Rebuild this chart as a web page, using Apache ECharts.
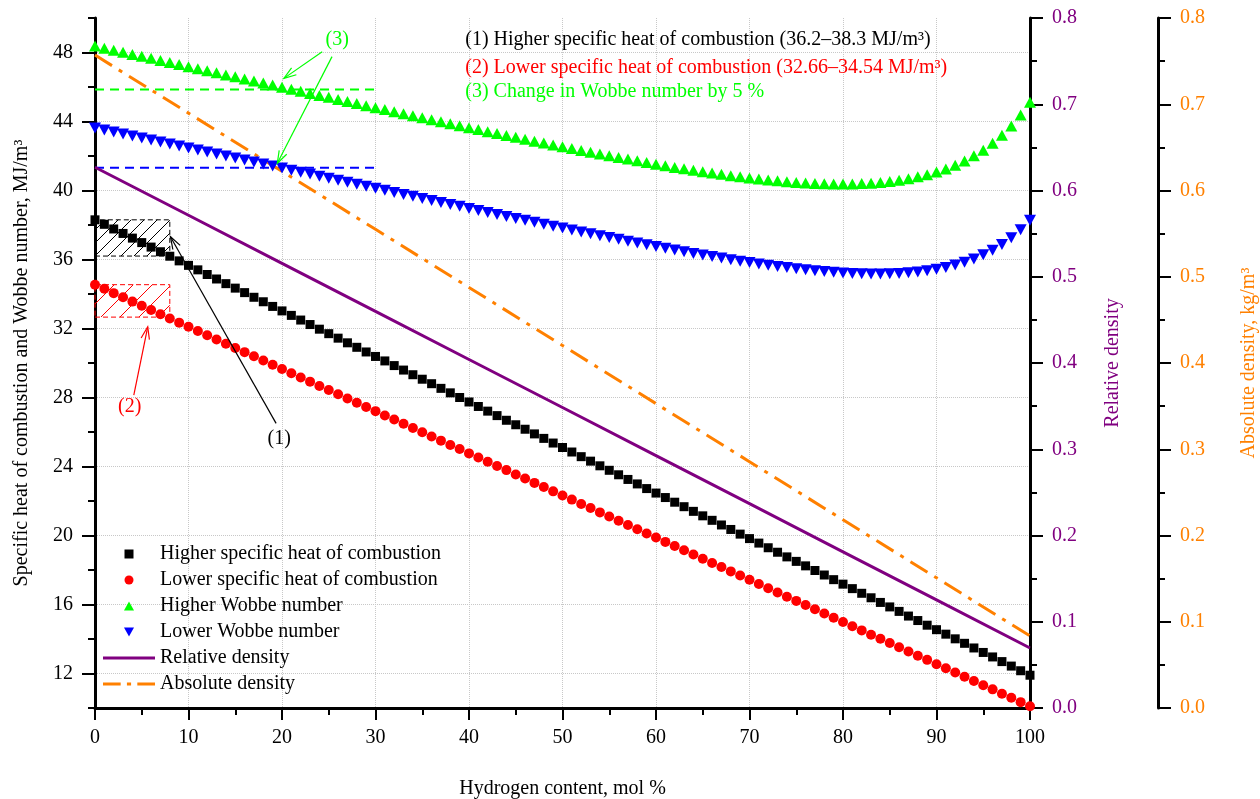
<!DOCTYPE html>
<html><head><meta charset="utf-8">
<script src="https://cdn.jsdelivr.net/npm/echarts@6/dist/echarts.min.js"></script>
<style>html,body{margin:0;padding:0;background:#fff}#c{width:1260px;height:799px}</style>
</head><body><div id="c"></div>
<script>
// ---------------- data ----------------
const hydrogen = [0,1,2,3,4,5,6,7,8,9,10,11,12,13,14,15,16,17,18,19,20,21,22,23,24,25,26,27,28,29,30,31,32,33,34,35,36,37,38,39,40,41,42,43,44,45,46,47,48,49,50,51,52,53,54,55,56,57,58,59,60,61,62,63,64,65,66,67,68,69,70,71,72,73,74,75,76,77,78,79,80,81,82,83,84,85,86,87,88,89,90,91,92,93,94,95,96,97,98,99,100];
const higherHeat = [38.30,38.04,37.77,37.51,37.24,36.98,36.72,36.45,36.19,35.92,35.66,35.40,35.13,34.87,34.60,34.34,34.08,33.81,33.55,33.28,33.02,32.76,32.49,32.23,31.96,31.70,31.44,31.17,30.91,30.64,30.38,30.12,29.85,29.59,29.32,29.06,28.80,28.53,28.27,28.00,27.74,27.48,27.21,26.95,26.68,26.42,26.16,25.89,25.63,25.36,25.10,24.84,24.57,24.31,24.04,23.78,23.52,23.25,22.99,22.72,22.46,22.20,21.93,21.67,21.40,21.14,20.88,20.61,20.35,20.08,19.82,19.56,19.29,19.03,18.76,18.50,18.24,17.97,17.71,17.44,17.18,16.92,16.65,16.39,16.12,15.86,15.60,15.33,15.07,14.80,14.54,14.28,14.01,13.75,13.48,13.22,12.96,12.69,12.43,12.16,11.90];
const lowerHeat = [34.54,34.30,34.05,33.81,33.56,33.32,33.07,32.83,32.58,32.34,32.10,31.85,31.61,31.36,31.12,30.87,30.63,30.39,30.14,29.90,29.65,29.41,29.16,28.92,28.67,28.43,28.19,27.94,27.70,27.45,27.21,26.96,26.72,26.48,26.23,25.99,25.74,25.50,25.25,25.01,24.76,24.52,24.28,24.03,23.79,23.54,23.30,23.05,22.81,22.56,22.32,22.08,21.83,21.59,21.34,21.10,20.85,20.61,20.36,20.12,19.88,19.63,19.39,19.14,18.90,18.65,18.41,18.17,17.92,17.68,17.43,17.19,16.94,16.70,16.45,16.21,15.97,15.72,15.48,15.23,14.99,14.74,14.50,14.25,14.01,13.77,13.52,13.28,13.03,12.79,12.54,12.30,12.06,11.81,11.57,11.32,11.08,10.83,10.59,10.34,10.10];
const higherWobbe = [48.37,48.25,48.13,48.01,47.89,47.78,47.66,47.54,47.42,47.30,47.18,47.06,46.94,46.82,46.70,46.59,46.47,46.35,46.23,46.11,45.99,45.87,45.75,45.63,45.51,45.40,45.28,45.16,45.04,44.92,44.80,44.69,44.57,44.45,44.33,44.22,44.10,43.99,43.87,43.76,43.64,43.53,43.41,43.30,43.19,43.08,42.97,42.86,42.75,42.64,42.53,42.43,42.32,42.22,42.11,42.01,41.91,41.82,41.72,41.62,41.52,41.43,41.34,41.26,41.17,41.09,41.01,40.94,40.86,40.79,40.73,40.67,40.61,40.56,40.51,40.47,40.44,40.41,40.39,40.38,40.37,40.38,40.40,40.42,40.47,40.52,40.59,40.68,40.79,40.92,41.07,41.25,41.47,41.71,42.01,42.34,42.74,43.20,43.74,44.37,45.11];
const lowerWobbe = [43.62,43.51,43.39,43.28,43.16,43.05,42.93,42.81,42.70,42.58,42.47,42.35,42.23,42.12,42.00,41.88,41.77,41.65,41.53,41.42,41.30,41.18,41.06,40.95,40.83,40.71,40.59,40.48,40.36,40.24,40.13,40.01,39.89,39.77,39.66,39.54,39.42,39.31,39.19,39.08,38.96,38.84,38.73,38.61,38.50,38.38,38.27,38.16,38.05,37.93,37.82,37.71,37.60,37.49,37.38,37.27,37.17,37.06,36.96,36.85,36.75,36.65,36.55,36.45,36.35,36.26,36.17,36.08,35.99,35.90,35.82,35.74,35.67,35.59,35.53,35.46,35.40,35.35,35.30,35.26,35.22,35.19,35.17,35.16,35.16,35.17,35.19,35.23,35.28,35.35,35.43,35.54,35.68,35.84,36.03,36.27,36.54,36.87,37.26,37.73,38.28];
const densityX = [0,10,20,30,40,50,60,70,80,90,100];
const relativeDensity = [0.627,0.5713,0.5156,0.4599,0.4041,0.3484,0.2926,0.2369,0.1811,0.1254,0.0696];
const absoluteDensity = [0.757,0.6897,0.6223,0.5550,0.4876,0.4203,0.3529,0.2856,0.2182,0.1509,0.0835];
const wobbeLimitX = [0,30];
const higherWobbeLimit = [45.85,45.85];
const lowerWobbeLimit = [41.32,41.32];
const higherHeatRange = [36.2,38.3];
const lowerHeatRange = [32.66,34.54];
const rangeX = [0,8];
const leftTickLabels = [12,16,20,24,28,32,36,40,44,48];

const seriesNames = ['Higher specific heat of combustion','Lower specific heat of combustion','Higher Wobbe number','Lower Wobbe number','Relative density','Absolute density'];
const noteLines = ['(1) Higher specific heat of combustion (36.2–38.3 MJ/m³)','(2) Lower specific heat of combustion (32.66–34.54 MJ/m³)','(3) Change in Wobbe number by 5 %'];

// ---------------- helpers ----------------
const FONT = '"Liberation Serif", "Times New Roman", serif';
const DOWN_TRI = 'path://M0,0L10,0L5,9Z';
function pair(xs, ys){ return xs.map((x,i)=>[x, ys[i]]); }
function hatch(color, step){
  const c = document.createElement('canvas'); c.width = step; c.height = step;
  const g = c.getContext('2d'); g.strokeStyle = color; g.lineWidth = 1;
  g.beginPath();
  g.moveTo(0, step); g.lineTo(step, 0);
  g.moveTo(-2, 2); g.lineTo(2, -2);
  g.moveTo(step-2, step+2); g.lineTo(step+2, step-2);
  g.stroke();
  return {image: c, repeat: 'repeat'};
}
const axisLineStyle = {color:'#000', width:3};
const tickLine = {color:'#000', width:2};

const chart = echarts.init(document.getElementById('c'), null, {renderer:'canvas'});
const option = {
  animation:false,
  backgroundColor:'#fff',
  grid:{left:95, right:230, top:18, bottom:91, containLabel:false, outerBoundsMode:'none'},
  legend:{
    orient:'vertical', left:98, top:539, itemWidth:52, itemHeight:9, itemGap:6,
    symbolRotate:0,
    textStyle:{fontFamily:FONT, fontSize:20, color:'#000', lineHeight:20},
    data:[
      {name:seriesNames[0], icon:'path://M0,0h10v10h-10Z'},
      {name:seriesNames[1], icon:'path://M5,0A5,5,0,1,1,5,10A5,5,0,1,1,5,0Z'},
      {name:seriesNames[2], icon:'path://M5,0L10,9L0,9Z'},
      {name:seriesNames[3], icon:DOWN_TRI},
      {name:seriesNames[4], icon:'path://M0,0h50v3h-50Z'},
      {name:seriesNames[5], icon:'path://M0,0h17v3h-17Z M23,0h4v3h-4Z M33,0h17v3h-17Z'}
    ]
  },
  xAxis:{
    type:'value', min:0, max:100, interval:10,
    name:'Hydrogen content, mol %', nameLocation:'middle', nameGap:71,
    nameTextStyle:{fontFamily:FONT, fontSize:20, color:'#000'},
    axisLine:{show:true, onZero:false, lineStyle:axisLineStyle},
    axisTick:{show:true, length:12, lineStyle:tickLine},
    minorTick:{show:true, splitNumber:2, length:7, lineStyle:tickLine},
    axisLabel:{fontFamily:FONT, fontSize:20, color:'#000', margin:20},
    splitLine:{show:true, lineStyle:{color:'#c8c8c8', type:'dotted', width:1}}
  },
  yAxis:[
    { type:'value', min:10, max:50, interval:2, position:'left',
      name:'Specific heat of combustion and Wobbe number, MJ/m³', nameLocation:'middle', nameGap:63, nameRotate:90,
      nameTextStyle:{fontFamily:FONT, fontSize:20, color:'#000'},
      axisLine:{show:true, onZero:false, lineStyle:axisLineStyle},
      axisTick:{show:true, length:7, lineStyle:tickLine},
      axisLabel:{show:false}, splitLine:{show:false}
    },
    { type:'value', min:10, max:50, interval:2, position:'left',
      axisLine:{show:false, onZero:false},
      axisTick:{show:true, length:13, lineStyle:tickLine, customValues:leftTickLabels},
      axisLabel:{show:true, fontFamily:FONT, fontSize:20, color:'#000', margin:22, customValues:leftTickLabels},
      splitLine:{show:true, lineStyle:{color:'#c8c8c8', type:'dotted', width:1}}
    },
    { type:'value', min:0, max:0.8, interval:0.1, position:'right',
      name:'Relative density', nameLocation:'middle', nameGap:73, nameRotate:90,
      nameTextStyle:{fontFamily:FONT, fontSize:20, color:'#800080'},
      axisLine:{show:true, onZero:false, lineStyle:axisLineStyle},
      axisTick:{show:true, length:13, lineStyle:tickLine},
      minorTick:{show:true, splitNumber:2, length:7, lineStyle:tickLine},
      axisLabel:{fontFamily:FONT, fontSize:20, color:'#800080', margin:22, formatter:v=>v.toFixed(1)},
      splitLine:{show:false}
    },
    { type:'value', min:0, max:0.8, interval:0.1, position:'right', offset:128,
      name:'Absolute density, kg/m³', nameLocation:'middle', nameGap:81, nameRotate:90,
      nameTextStyle:{fontFamily:FONT, fontSize:20, color:'#ff8000'},
      axisLine:{show:true, onZero:false, lineStyle:axisLineStyle},
      axisTick:{show:true, length:13, lineStyle:tickLine},
      minorTick:{show:true, splitNumber:2, length:7, lineStyle:tickLine},
      axisLabel:{fontFamily:FONT, fontSize:20, color:'#ff8000', margin:22, formatter:v=>v.toFixed(1)},
      splitLine:{show:false}
    }
  ],
  series:[
    { name:'hatch', type:'line', yAxisIndex:0, data:[], z:1, silent:true,
      markArea:{silent:true, data:[
        [{xAxis:rangeX[0], yAxis:higherHeatRange[0], itemStyle:{color:hatch('#000',13), borderColor:'#000', borderWidth:1, borderType:[5,3]}},
         {xAxis:rangeX[1], yAxis:higherHeatRange[1]}],
        [{xAxis:rangeX[0], yAxis:lowerHeatRange[0], itemStyle:{color:hatch('#ff0000',19), borderColor:'#ff0000', borderWidth:1, borderType:[5,3]}},
         {xAxis:rangeX[1], yAxis:lowerHeatRange[1]}]
      ]}
    },
    { name:'limitH', type:'line', yAxisIndex:0, data:pair(wobbeLimitX, higherWobbeLimit), symbol:'none', z:2, silent:true,
      lineStyle:{color:'#00ff00', width:2, type:[9,6]} },
    { name:'limitL', type:'line', yAxisIndex:0, data:pair(wobbeLimitX, lowerWobbeLimit), symbol:'none', z:2, silent:true,
      lineStyle:{color:'#0000ff', width:2, type:[9,6]} },
    { name:seriesNames[4], type:'line', yAxisIndex:2, data:pair(densityX, relativeDensity), symbol:'none', z:3,
      itemStyle:{color:'#800080'}, lineStyle:{color:'#800080', width:3} },
    { name:seriesNames[5], type:'line', yAxisIndex:3, data:pair(densityX, absoluteDensity), symbol:'none', z:3,
      itemStyle:{color:'#ff8000'}, lineStyle:{color:'#ff8000', width:3, type:[20,8,4,8]} },
    { name:seriesNames[0], type:'scatter', yAxisIndex:0, data:pair(hydrogen, higherHeat), symbol:'rect', symbolSize:9, z:4,
      itemStyle:{color:'#000', opacity:1} },
    { name:seriesNames[1], type:'scatter', yAxisIndex:0, data:pair(hydrogen, lowerHeat), symbol:'circle', symbolSize:10, z:4,
      itemStyle:{color:'#ff0000', opacity:1} },
    { name:seriesNames[2], type:'scatter', yAxisIndex:0, data:pair(hydrogen, higherWobbe), symbol:'triangle', symbolSize:[12,11], z:4,
      itemStyle:{color:'#00ff00', opacity:1} },
    { name:seriesNames[3], type:'scatter', yAxisIndex:0, data:pair(hydrogen, lowerWobbe), symbol:DOWN_TRI, symbolSize:[12,11], z:4,
      itemStyle:{color:'#0000ff', opacity:1} }
  ]
};
chart.setOption(option);

// ---------------- annotations (placed in data coordinates) ----------------
const notes = [
  {text:'(1)', color:'#000', at:[19.7,25.63]},
  {text:'(2)', color:'#ff0000', at:[3.72,27.47]},
  {text:'(3)', color:'#00ff00', at:[25.9,48.73]}
];
const arrows = [
  {from:[19.37,26.5], to:[8.07,37.32], color:'#000'},
  {from:[4.15,28.14], to:[5.64,32.1], color:'#ff0000'},
  {from:[24.3,48.05], to:[20.2,46.5], color:'#00ff00'},
  {from:[25.35,47.76], to:[19.5,41.58], color:'#00ff00'}
];
const noteBlock = {x:39.6, ys:[48.72,47.1,45.71], colors:['#000','#ff0000','#00ff00']};
const ref = {xAxisIndex:0, yAxisIndex:0};
function px(p){ return chart.convertToPixel(ref, p); }
const g = [];
notes.forEach(n=>{
  const p = px(n.at);
  g.push({type:'text', x:p[0], y:p[1], z:100, style:{text:n.text, fill:n.color, fontFamily:FONT, fontSize:20, align:'center', verticalAlign:'middle'}});
});
arrows.forEach(a=>{
  const s = px(a.from), t = px(a.to);
  const ang = Math.atan2(t[1]-s[1], t[0]-s[0]);
  const L = 13, w = 0.33;
  const h1 = [t[0]-L*Math.cos(ang-w), t[1]-L*Math.sin(ang-w)];
  const h2 = [t[0]-L*Math.cos(ang+w), t[1]-L*Math.sin(ang+w)];
  g.push({type:'polyline', z:100, shape:{points:[s,t]}, style:{stroke:a.color, lineWidth:1.2, fill:null}});
  g.push({type:'polyline', z:100, shape:{points:[h1,t,h2]}, style:{stroke:a.color, lineWidth:1.2, fill:null}});
});
noteLines.forEach((txt,i)=>{
  const p = px([noteBlock.x, noteBlock.ys[i]]);
  g.push({type:'text', x:p[0], y:p[1], z:100, style:{text:txt, fill:noteBlock.colors[i], fontFamily:FONT, fontSize:20, align:'left', verticalAlign:'middle'}});
});
chart.setOption({graphic:g});
</script>
</body></html>
